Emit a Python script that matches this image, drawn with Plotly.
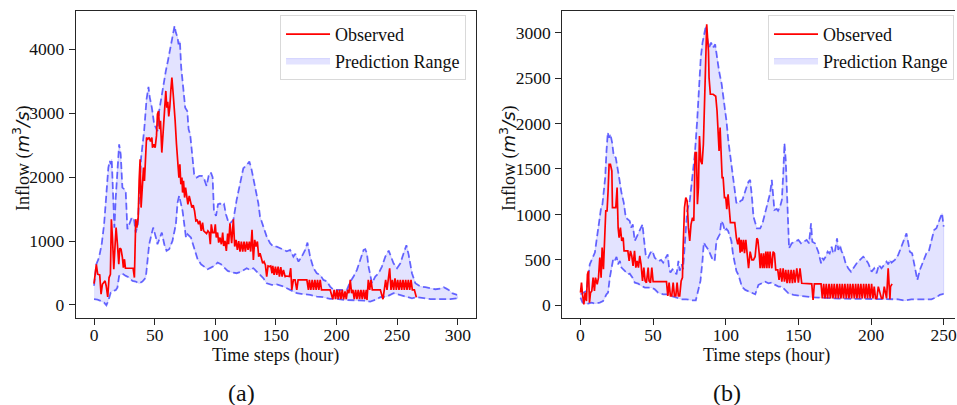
import plotly.graph_objects as go

# ---------------- Panel (a) ----------------
a_upper_x = [0, 1.9, 4.1, 6.3, 8.3, 10.2, 11.8, 13, 14, 14.6, 15.7, 16.8, 17.9, 19.3, 20.7, 22, 23.4, 25.1,
             26.2, 27.5, 29.5, 31.1, 33, 34.4, 36.1, 37.2, 38.8, 41.3, 43.3, 44.9, 46, 47.7, 49.6, 51, 52.3,
             53.7, 55.9, 57.9, 59.2, 60.9, 62.5, 64.7, 66.4, 67.5, 68.9, 69.7, 70.8, 71.9, 73.6, 75.2, 76.9,
             78, 79.3, 80.7, 82.6, 84.6, 86.8, 89, 90.9, 92.8, 94.5, 96.4, 97.8, 98.9, 100.6, 102.2, 103.9,
             105.5, 107.2, 108.8, 110.5, 112.1, 114.9, 117.6, 120.4, 123.1, 125.9, 128.1, 130, 132.8, 135.5,
             136.9, 139.7, 142.4, 145.2, 147.9, 150.7, 153.4, 156.2, 158.9, 161.7, 164.4, 166, 168.6, 171.3,
             174.1, 176, 178.2, 181, 183.7, 186.5, 189.2, 192, 194.7, 197.5, 203, 208.5, 211.3, 214, 216.8,
             219.5, 222.3, 223.7, 225, 226.4, 229.2, 231.9, 234.7, 237.4, 240.2, 243, 244.3, 247, 249.9,
             252.6, 255.3, 257.6, 259.5, 262.2, 265, 269.1, 273.3, 277.4, 281.5, 285.7, 288.4, 290.6, 292.5,
             295.3, 299.4]
a_upper_y = [300, 636, 741, 949, 1262, 1784, 2149, 2253, 2201, 2280, 1680, 1210, 1680, 2201, 2514, 2358, 1836,
             1810, 1758, 1184, 1288, 1367, 1341, 1132, 1262, 1758, 2306, 2723, 3219, 3412, 3245, 3088, 2827,
             2775, 2720, 3036, 3297, 3558, 3662, 3818, 3975, 4236, 4366, 4262, 4184, 4079, 4131, 3714, 3349,
             3088, 3036, 2749, 2671, 2358, 2045, 1993, 2019, 2019, 1967, 1862, 2019, 2071, 2000, 1471, 1393,
             1575, 1586, 1560, 1580, 1419, 1315, 1278, 1330, 1643, 1904, 2139, 2191, 2243, 2113, 1852, 1591,
             1382, 1226, 1069, 965, 913, 913, 887, 861, 840, 861, 756, 800, 678, 756, 861, 975, 756, 574, 495,
             469, 391, 370, 287, 235, 235, 235, 365, 443, 548, 704, 861, 871, 809, 600, 339, 443, 495, 600,
             756, 850, 783, 652, 574, 652, 809, 934, 783, 495, 339, 287, 277, 261, 245, 255, 277, 255, 235,
             183, 157]

a_lower_x = [0, 2.8, 5.5, 8.3, 10.2, 11.8, 13.8, 15.2, 17.9, 19.3, 20.7, 23.4, 26.2, 28.9, 31.7, 34.4, 37.2,
             39.9, 42.7, 45.5, 46.8, 48.8, 51, 52.3, 54.3, 55.9, 57.9, 59.8, 62, 64.7, 67.5, 68.9, 70.2, 73,
             75.8, 77.1, 79.9, 82.6, 85.4, 88.2, 90.9, 93.7, 96.4, 99.2, 101.9, 104.7, 107.4, 110.2, 114.3,
             117.6, 121.7, 125.9, 128.6, 131.4, 135.5, 139.7, 142.4, 146.5, 150.7, 156.2, 161.7, 167.2,
             172.7, 178.2, 183.7, 189.2, 194.7, 200.3, 205.8, 211.3, 216.8, 222.3, 227.8, 231.9, 236.1,
             241.6, 247, 252.6, 258.1, 262.2, 266.4, 271.9, 277.4, 285.7, 293.9, 300]
a_lower_y = [89, 83, 63, 37, -5, 63, 193, 219, 230, 271, 454, 490, 454, 428, 376, 365, 334, 365, 428, 949,
             1054, 1210, 1054, 949, 1050, 1132, 949, 845, 871, 1002, 1262, 1601, 1706, 1471, 1054, 1106,
             1054, 897, 715, 636, 595, 558, 584, 610, 662, 636, 584, 532, 506, 496, 522, 574, 548, 574, 496,
             417, 339, 313, 320, 287, 235, 183, 167, 157, 131, 120, 94, 94, 78, 78, 68, 68, 52, 78, 120, 131,
             183, 157, 120, 104, 120, 110, 89, 89, 89, 104]

a_obs_x = [0, 1.9, 3, 4.7, 5.8, 6.9, 9.1, 10, 11.3, 12.4, 13.5, 14.3, 15.2, 16.3, 17.4, 18.2, 19.3, 20.4,
           21.2, 22.3, 23.4, 24.2, 25.1, 25.9, 28.9, 32.2, 33.3, 34.4, 35.3, 36.4, 37.2, 38, 38.8, 39.9,
           40.8, 41.6, 42.1, 43.3, 44.4, 45.5, 46.6, 47.7, 48.2, 49.3, 50.4, 51.5, 52.3, 53.2, 54, 54.8,
           55.9, 56.8, 57.9, 59.2, 60, 60.8, 61.6, 62.5, 63.4, 64.2, 65.3, 66.1, 66.9, 68, 69.1, 70, 70.8,
           71.6, 72.5, 73, 73.8, 74.7, 75.5, 76.3, 77.4, 78.5, 79.6, 80.7, 81.8, 82.9, 84, 85.1, 86.2,
           87.3, 88.4, 89.5, 90.4, 91.5, 92.8, 93.9, 95, 95.9, 96.7, 97.8, 99.2, 100, 100.8, 101.9, 102.8,
           103.9, 105, 106.1, 106.9, 108, 109.1, 110.2, 111, 112.1, 113.5, 114.9, 116, 117.1, 118.2,
           119.3, 120.4, 121.5, 122.6, 123.7, 124.8, 125.9, 127, 128.1, 129.2, 130.3, 131.4, 132.5,
           133.6, 134.7, 135.8, 136.9, 138, 139.1, 140.2, 141.3, 142.4, 143.5, 144.6, 145.7, 146.8,
           147.4, 148.5, 149.6, 150.7, 151.8, 152.9, 154, 155.1, 156.2, 157.6, 158.9, 161.1, 162.2,
           163.1, 164.4, 165.8, 167.2, 168.3, 170, 172.7, 175.5, 176.8, 177.6, 178.8, 179.9, 181, 182.1,
           183.2, 184.3, 185.4, 186.5, 187.6, 194.7, 196.9, 198, 199.2, 200.3, 201.4, 202.5, 203.6,
           204.7, 205.8, 207, 208, 209.1, 210.2, 211.3, 212.4, 213.5, 214.6, 215.7, 216.8, 217.9, 219,
           220.1, 221.2, 222.3, 223.4, 224.5, 225.1, 226.2, 227.3, 228.4, 229.5, 236.1, 238.3, 239.4,
           240.5, 241.6, 242.7, 243.8, 244.9, 246, 247.1, 248.2, 249.3, 250.4, 251.5, 252.6, 253.7,
           254.8, 255.9, 257, 258.1, 259.2, 260.3, 261.4, 262.5, 264.2, 265.8]
a_obs_y = [334, 636, 480, 469, 167, 323, 376, 300, 125, 428, 480, 1341, 1054, 558, 949, 1210, 949, 636,
           887, 871, 741, 584, 715, 574, 574, 574, 428, 1341, 1210, 1367, 1941, 2280, 1523, 1888, 2149,
           1941, 2201, 2619, 2593, 2619, 2556, 2619, 2462, 2514, 2462, 2645, 2984, 3036, 2750, 2880,
           2384, 2700, 2880, 3349, 3088, 3180, 2950, 3100, 3375, 3558, 3297, 3140, 2880, 2514, 2201,
           1993, 2201, 1888, 1993, 1758, 1941, 1680, 1836, 1706, 1575, 1706, 1601, 1523, 1560, 1471,
           1315, 1325, 1262, 1315, 1158, 1288, 1158, 1132, 1116, 1158, 1132, 949, 1262, 1132, 1132,
           1262, 1054, 1132, 975, 1054, 949, 1132, 923, 1002, 845, 1116, 949, 1278, 965, 1341, 913,
           1017, 861, 1000, 835, 991, 835, 991, 835, 991, 861, 991, 835, 1174, 704, 1017, 913, 991,
           756, 809, 704, 652, 678, 626, 443, 610, 600, 610, 495, 610, 469, 600, 469, 600, 443, 590,
           443, 548, 443, 452, 443, 574, 235, 391, 391, 235, 391, 391, 391, 391, 235, 391, 235, 391,
           235, 391, 235, 391, 235, 391, 235, 235, 89, 235, 89, 235, 89, 235, 89, 235, 89, 210, 89,
           235, 183, 391, 183, 235, 89, 235, 89, 235, 89, 235, 89, 235, 89, 235, 78, 391, 235, 391, 235,
           235, 89, 235, 391, 235, 391, 574, 235, 391, 235, 417, 235, 391, 235, 391, 235, 391, 235, 391,
           235, 391, 235, 391, 235, 235, 120]

# ---------------- Panel (b) ----------------
b_upper_x = [0, 1.8, 4.1, 6.4, 8.7, 9.9, 11, 12.8, 14.2, 15.1, 16.1, 17, 17.9, 18.8, 19.7, 20.6, 21.8,
             22.9, 24.3, 25.2, 26.6, 28.2, 29.8, 31.2, 32.8, 33.9, 34.9, 36, 37.4, 38.5, 39.7, 41.3, 42.7,
             43.6, 45, 46.6, 48.2, 49.5, 51.1, 52.3, 54.1, 55.5, 56.9, 58.7, 60, 61, 61.9, 63.3, 64.5,
             66.1, 67.4, 68.3, 69.7, 70.6, 72, 73.4, 75.2, 77.1, 78.7, 80.3, 81.7, 82.8, 84, 85.3, 86.3,
             87.2, 88.5, 89.9, 91.3, 92.7, 94, 95.4, 97.2, 99.1, 100.5, 101.8, 103.2, 104.6, 106, 107.3,
             108.7, 110.1, 111.5, 112.8, 114.2, 115.7, 116.8, 118, 119.1, 121.4, 123.7, 125.3, 127.1,
             128.9, 130.5, 131.7, 132.4, 133.5, 135.1, 136, 137.4, 138.6, 139.7, 140.4, 141.3, 142.7,
             143.6, 145.4, 147.7, 150, 151.8, 153.5, 155.7, 157.3, 158.7, 159.6, 161.4, 163.7, 165.6,
             166.5, 167.4, 168.8, 170.1, 171.5, 172.9, 174, 175.2, 176.6, 177.5, 178.6, 179.8, 180.7,
             181.6, 182.5, 184.3, 186.2, 187.8, 190.1, 192.4, 194.6, 196, 198.1, 200.4, 202.2, 203.8,
             205.4, 207.2, 209.5, 210.7, 211.8, 213, 214.1, 216.4, 218.7, 221, 223.3, 224.4, 225.5,
             226.7, 228.3, 230.1, 231.9, 233.6, 235.8, 238.1, 239.7, 241.6, 243.4, 245, 246.1, 247.5,
             248.9, 250]
b_upper_y = [121, 139, 158, 451, 543, 580, 708, 891, 1075, 1111, 1258, 1405, 1698, 1900, 1845, 1882, 1790,
             1643, 1625, 1552, 1405, 1240, 1130, 965, 946, 928, 855, 890, 708, 745, 800, 855, 891, 745,
             543, 524, 580, 598, 524, 506, 488, 500, 469, 524, 560, 414, 360, 396, 380, 341, 488, 380,
             451, 396, 708, 1038, 1148, 1405, 1662, 2028, 2395, 2725, 2890, 2982, 3074, 2945, 2835, 2890,
             2835, 2872, 2725, 2578, 2432, 2212, 2028, 1808, 1625, 1442, 1258, 1130, 1117, 1148, 1160,
             1240, 1295, 1361, 1379, 1196, 975, 847, 847, 902, 1012, 1122, 1232, 1379, 1250, 1049, 1060,
             1040, 1086, 1159, 1489, 1782, 1599, 1049, 627, 682, 700, 719, 682, 700, 719, 682, 902, 700,
             682, 590, 462, 520, 500, 535, 590, 570, 645, 570, 600, 737, 609, 660, 590, 570, 499, 462,
             407, 370, 407, 462, 499, 535, 515, 462, 370, 407, 352, 444, 407, 462, 480, 450, 499, 470,
             499, 554, 645, 755, 792, 700, 590, 572, 425, 279, 389, 480, 572, 590, 719, 829, 847, 902,
             957, 1012, 865]

b_lower_x = [0, 1.4, 3, 5.3, 7.6, 9.9, 13.3, 15.6, 17.9, 19, 20.2, 21.3, 22.5, 23.6, 24.8, 25.9, 27.1,
             28.2, 29.4, 30.5, 32.8, 33.9, 35.8, 37.4, 39.7, 42, 44.3, 46.6, 48.9, 51.1, 53.4, 56.9, 60.3,
             62.6, 66.1, 69.5, 72.9, 76.4, 79.4, 81, 82.6, 84, 84.9, 86.2, 87.8, 89.4, 90.8, 92.4, 93.6,
             94.7, 95.9, 97, 98.2, 99.3, 100.5, 101.6, 102.8, 103.9, 105, 106.2, 107.3, 108.8, 111.1,
             113.4, 115.7, 118, 120.3, 122.5, 124.8, 127.1, 129.4, 131.7, 134, 136.3, 138.6, 140.8,
             143.1, 146.6, 151.1, 154.6, 159.2, 163.7, 168.3, 172.9, 177.5, 186.6, 195.8, 200.4, 209.5,
             218.7, 223.3, 227.8, 237, 241.6, 245, 247.3, 250]
b_lower_y = [84, 29, 18, 18, 29, 18, 29, 47, 121, 139, 304, 414, 506, 488, 532, 451, 488, 414, 396, 378,
             341, 348, 304, 249, 238, 212, 194, 194, 194, 176, 139, 121, 121, 102, 84, 66, 66, 55, 55,
             158, 268, 488, 689, 653, 616, 561, 506, 488, 708, 745, 781, 928, 891, 818, 840, 818, 763, 708,
             561, 451, 378, 330, 205, 169, 150, 132, 121, 224, 242, 260, 242, 250, 224, 205, 205, 169,
             132, 114, 102, 95, 88, 84, 84, 77, 73, 70, 70, 66, 66, 66, 51, 66, 66, 66, 88, 114, 125]

b_obs_x = [0, 0.7, 1.4, 2.3, 3.2, 4.1, 4.8, 5.5, 6.2, 6.9, 7.8, 8.7, 9.6, 10.3, 11.5, 12.4, 13.3, 14.2,
           14.9, 15.8, 17.4, 18.3, 19, 19.7, 20.6, 21.6, 22, 22.9, 24.3, 25.2, 25.9, 26.6, 27.5, 28.4,
           29.4, 30, 31.2, 32.6, 33.5, 34.4, 35.3, 36.2, 37.2, 38.1, 39, 39.9, 40.8, 41.7, 42.7, 43.6,
           44.5, 45.4, 46.6, 47.2, 48.2, 49.1, 50, 59.2, 60.1, 61, 61.9, 62.8, 63.8, 64.7, 65.6, 66.5,
           67.4, 68.3, 69.3, 70.2, 70.6, 71.6, 72.5, 73.4, 74.3, 75.2, 76.1, 77.1, 78, 78.9, 79.8, 80.5,
           81.2, 81.9, 82.8, 83.7, 84.6, 85.6, 86.2, 86.9, 87.6, 88.1, 88.5, 89.4, 91.3, 93.1, 94, 94.7,
           95.4, 96.1, 96.8, 97.5, 98.2, 99.1, 100, 100.7, 101.6, 102.3, 103.2, 105, 106.2, 107.3,
           108.3, 109.2, 109.9, 110.6, 111.2, 112.2, 112.9, 113.8, 114.5, 115.7, 116.8, 118, 119.1,
           120.2, 121.4, 122.1, 123, 123.7, 124.4, 125.3, 126, 126.7, 127.6, 128.3, 129, 129.9, 130.5,
           131.7, 132.6, 133.5, 134.4, 135.8, 136.7, 137.6, 138.6, 139.5, 140.4, 141.3, 142.2, 143.1,
           144, 145, 145.9, 146.8, 147.7, 148.9, 150, 151.1, 152.3, 154.6, 156.9, 159.2, 160.1, 161,
           165.6, 166.5, 167.4, 168.3, 169.2, 170.1, 171.1, 172, 172.9, 173.8, 174.7, 175.6, 176.6,
           177.5, 178.4, 179.3, 180.2, 181.1, 182, 183, 183.9, 184.8, 185.7, 186.6, 187.5, 188.5,
           189.4, 190.3, 191.2, 192.1, 193, 193.9, 194.9, 195.8, 196.7, 197.6, 198.5, 199.4, 200.4,
           201.3, 202.2, 203.1, 204, 205, 207.2, 208.1, 209.1, 210.7, 211.8, 213, 213.4, 214.5, 215.5,
           215.9]
b_obs_y = [139, 249, 121, 11, 139, 47, 341, 378, 29, 139, 158, 304, 158, 304, 231, 304, 524, 304, 635,
           396, 1038, 1038, 1258, 1552, 1552, 1478, 1075, 1075, 1075, 1295, 854, 745, 854, 708, 745, 598,
           598, 598, 488, 598, 543, 433, 598, 414, 488, 414, 543, 451, 268, 414, 268, 249, 414, 268, 249,
           414, 260, 260, 102, 249, 102, 102, 249, 102, 102, 249, 102, 102, 268, 304, 598, 1075, 1185,
           1148, 854, 708, 891, 965, 928, 1680, 1680, 1111, 1300, 1863, 1588, 1552, 1772, 2322, 2835,
           3092, 2909, 2799, 2505, 2322, 2322, 2300, 2138, 1808, 1698, 1955, 1588, 1405, 1405, 1185,
           1185, 1056, 1221, 1075, 909, 909, 909, 745, 671, 745, 579, 719, 590, 719, 572, 719, 580, 407,
           590, 499, 499, 535, 737, 719, 572, 407, 572, 407, 572, 407, 590, 407, 590, 407, 590, 407,
           590, 572, 389, 389, 279, 407, 260, 407, 260, 389, 242, 389, 242, 389, 242, 389, 249, 407,
           249, 407, 242, 242, 235, 235, 58, 235, 235, 75, 235, 75, 235, 75, 235, 75, 235, 75, 235, 75,
           235, 75, 235, 75, 235, 75, 235, 75, 235, 75, 235, 75, 235, 75, 235, 75, 235, 75, 235, 75,
           235, 75, 235, 75, 235, 75, 235, 75, 205, 75, 75, 205, 75, 75, 205, 75, 407, 66, 205, 235]

x_ticks_a = [0, 50, 100, 150, 200, 250, 300]
y_ticks_a = [0, 1000, 2000, 3000, 4000]
x_ticks_b = [0, 50, 100, 150, 200, 250]
y_ticks_b = [0, 500, 1000, 1500, 2000, 2500, 3000]

W, H = 957, 405
SERIF = "Liberation Serif"
INK = "#111111"
RED = "#ff0000"
EDGE = "rgba(0,0,255,0.55)"
FILL = "rgba(0,0,255,0.11)"


def px(x):
    return x / W


def py(y):
    return 1 - y / H


def serif(size):
    return dict(family=SERIF, size=size, color=INK)


fig = go.Figure()


def add_panel(xa, ya, legend, ux, uy, lx, ly, ox, oy):
    # shaded band between the lower and upper prediction bounds
    fig.add_trace(go.Scatter(
        x=ux + lx[::-1], y=uy + ly[::-1], mode="lines", fill="toself",
        fillcolor=FILL, line=dict(color="rgba(0,0,255,0.12)", width=1),
        name="Prediction Range", legend=legend, legendrank=2, hoverinfo="skip",
        xaxis=xa, yaxis=ya))
    for bx, by in ((ux, uy), (lx, ly)):
        fig.add_trace(go.Scatter(
            x=bx, y=by, mode="lines", line=dict(color=EDGE, width=1.8, dash="7px,3.5px"),
            showlegend=False, xaxis=xa, yaxis=ya))
    fig.add_trace(go.Scatter(
        x=ox, y=oy, mode="lines", line=dict(color=RED, width=1.7),
        name="Observed", legend=legend, legendrank=1, xaxis=xa, yaxis=ya))


add_panel("x", "y", "legend", a_upper_x, a_upper_y, a_lower_x, a_lower_y, a_obs_x, a_obs_y)
add_panel("x2", "y2", "legend2", b_upper_x, b_upper_y, b_lower_x, b_lower_y, b_obs_x, b_obs_y)


def axis_style(standoff):
    return dict(showline=True, linecolor="#262626", linewidth=1.3, ticks="outside", ticklen=6,
                tickwidth=1.3, tickcolor="#262626", showgrid=False, zeroline=False,
                tickfont=serif(17.5), ticklabelstandoff=standoff)


y_top, y_bot = py(11), py(318)
legend_style = dict(xanchor="right", yanchor="top", bgcolor="rgba(255,255,255,0.85)",
                    bordercolor="#d9d9d9", borderwidth=1, font=serif(18), itemwidth=44,
                    tracegroupgap=0)
fig.update_layout(
    width=W, height=H, autosize=False,
    margin=dict(l=0, r=0, t=0, b=0),
    paper_bgcolor="white", plot_bgcolor="white",
    font=serif(18),
    xaxis=dict(domain=[px(76), px(477)], range=[-15, 315], tickvals=x_ticks_a,
               anchor="y", mirror=True, **axis_style(-5)),
    yaxis=dict(domain=[y_bot, y_top], range=[-205, 4600], tickvals=y_ticks_a,
               anchor="x", mirror=True, **axis_style(1)),
    xaxis2=dict(domain=[px(563.5), 1.0], range=[-12.5, 257.8], tickvals=x_ticks_b,
                anchor="y2", mirror=True, ticklabeloverflow="allow", **axis_style(-5)),
    yaxis2=dict(domain=[y_bot, y_top], range=[-140, 3238], tickvals=y_ticks_b,
                anchor="x2", mirror=False, **axis_style(1)),
    legend=dict(x=px(467), y=py(15), **legend_style),
    legend2=dict(x=px(956), y=py(15), **legend_style),
)

ylabel = ("Inflow (<span style='font-family:DejaVu Sans'><i>m</i><sup>3</sup>"
          "<i>/s</i></span>)")
annotations = [
    dict(text="Time steps (hour)", x=px(276.5), y=py(355), font=serif(18)),
    dict(text="Time steps (hour)", x=px(768), y=py(355), font=serif(18)),
    dict(text=ylabel, x=px(21), y=py(158), textangle=-90, font=serif(18)),
    dict(text=ylabel, x=px(509), y=py(158), textangle=-90, font=serif(18)),
    dict(text="(a)", x=px(242), y=py(393), font=serif(24)),
    dict(text="(b)", x=px(729), y=py(393), font=serif(24)),
]
for a in annotations:
    fig.add_annotation(xref="paper", yref="paper", showarrow=False,
                       xanchor="center", yanchor="middle", **a)

fig.write_html("out.html")
